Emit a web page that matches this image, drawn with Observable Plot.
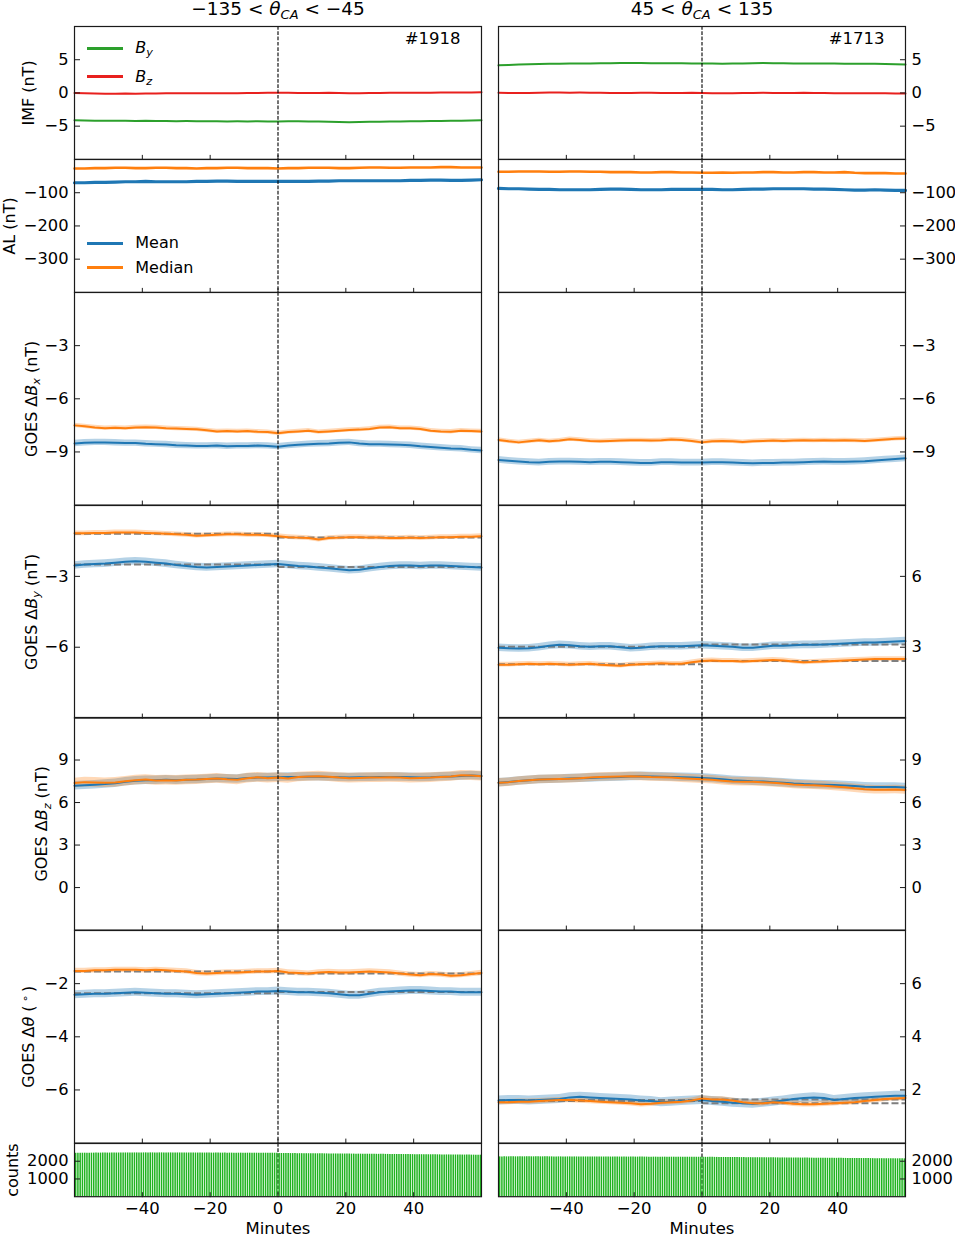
<!DOCTYPE html>
<html><head><meta charset="utf-8">
<script src="https://cdn.jsdelivr.net/npm/d3@7"></script>
<script src="https://cdn.jsdelivr.net/npm/@observablehq/plot@0.6"></script>
<style>
html,body{margin:0;padding:0;background:#fff;}
#chart{position:relative;width:955px;height:1237px;font-family:"DejaVu Sans",sans-serif;color:#000;}
#chart svg{position:absolute;overflow:visible;background:transparent !important;}
.lg-line{position:absolute;height:3px;width:36px;}
.lg-text{position:absolute;font:16px "DejaVu Sans";line-height:20px;transform:translateY(-50%);white-space:nowrap;}
.lg-text sub{font-size:70%;vertical-align:-0.3em;line-height:0;}
</style></head>
<body><div id="chart"></div>
<script>
// ---------------- data ----------------
const minutes = [-60,-57,-54,-51,-48,-45,-42,-39,-36,-33,-30,-27,-24,-21,-18,-15,-12,-9,-6,-3,0,3,6,9,12,15,18,21,24,27,30,33,36,39,42,45,48,51,54,57,60];
const xTicks = [-40,-20,0,20,40];
const titles = ["−135 < θCA < −45", "45 < θCA < 135"];
const eventTotals = ["#1918", "#1713"];
const windows = [[-60,0],[0,60]];

// IMF (nT)
const imfByLeft = [-4.10,-4.15,-4.18,-4.20,-4.18,-4.20,-4.22,-4.20,-4.22,-4.24,
-4.25,-4.24,-4.26,-4.27,-4.26,-4.28,-4.27,-4.28,-4.27,-4.28,
-4.28,-4.27,-4.26,-4.28,-4.30,-4.32,-4.36,-4.40,-4.36,-4.33,
-4.32,-4.30,-4.28,-4.27,-4.25,-4.24,-4.22,-4.20,-4.18,-4.15,-4.12];
const imfBzLeft = [0.00,-0.05,-0.10,-0.12,-0.12,-0.10,-0.12,-0.10,-0.08,-0.06,
-0.05,-0.06,-0.05,-0.04,-0.05,-0.04,-0.03,-0.02,0.00,0.02,
0.03,0.02,0.00,-0.02,0.00,0.02,0.00,-0.03,-0.05,-0.02,
0.00,0.02,0.02,0.03,0.04,0.03,0.05,0.06,0.08,0.08,0.10];
const imfByRight = [4.15,4.22,4.28,4.32,4.35,4.38,4.40,4.42,4.44,4.45,
4.46,4.48,4.50,4.50,4.49,4.48,4.47,4.46,4.46,4.45,
4.44,4.42,4.40,4.42,4.45,4.48,4.50,4.48,4.46,4.45,
4.44,4.43,4.42,4.42,4.41,4.40,4.40,4.39,4.37,4.33,4.28];
const imfBzRight = [0.02,0.00,-0.02,0.00,0.03,0.05,0.05,0.04,0.05,0.03,
0.02,0.00,-0.02,0.00,0.03,0.02,0.00,-0.02,0.00,0.02,
0.00,-0.05,-0.06,-0.04,-0.02,0.00,0.02,0.00,-0.02,0.00,
0.02,0.00,-0.02,-0.04,-0.03,-0.05,-0.06,-0.05,-0.06,-0.08,-0.08];

// AL (nT)
const alMeanLeft = [-70,-70,-69,-69,-68,-67,-67,-66,-67,-67,
-67,-67,-66,-66,-65,-65,-66,-66,-66,-66,
-66,-66,-66,-66,-65,-65,-64,-64,-64,-64,
-64,-64,-64,-63,-63,-62,-62,-63,-63,-62,-61];
const alMedianLeft = [-27,-27,-26,-26,-25,-25,-26,-26,-25,-25,
-26,-26,-27,-26,-26,-25,-25,-26,-26,-26,
-27,-26,-26,-25,-25,-25,-26,-26,-25,-24,
-24,-25,-25,-24,-24,-24,-23,-23,-24,-24,-24];
const alMeanRight = [-87,-88,-88,-89,-90,-90,-91,-91,-91,-91,
-90,-89,-89,-90,-91,-91,-91,-90,-90,-90,
-90,-90,-91,-91,-90,-89,-89,-88,-88,-88,
-88,-89,-89,-90,-91,-92,-92,-91,-92,-93,-93];
const alMedianRight = [-37,-37,-36,-36,-36,-37,-37,-36,-36,-37,
-37,-38,-38,-38,-39,-39,-38,-38,-39,-39,
-40,-40,-39,-40,-39,-39,-38,-38,-39,-39,
-38,-38,-39,-39,-38,-40,-41,-41,-41,-42,-42];

// GOES ΔBx (nT)
const bxMeanLeft = [-8.52,-8.48,-8.46,-8.46,-8.48,-8.50,-8.50,-8.54,-8.56,-8.58,
-8.62,-8.64,-8.66,-8.66,-8.64,-8.68,-8.66,-8.66,-8.64,-8.66,
-8.70,-8.64,-8.60,-8.56,-8.54,-8.52,-8.48,-8.46,-8.52,-8.56,
-8.56,-8.58,-8.60,-8.62,-8.68,-8.72,-8.76,-8.80,-8.82,-8.88,-8.92];
const bxMedianLeft = [-7.50,-7.55,-7.62,-7.66,-7.64,-7.66,-7.62,-7.60,-7.62,-7.66,
-7.68,-7.70,-7.72,-7.78,-7.84,-7.82,-7.84,-7.82,-7.86,-7.88,
-7.95,-7.88,-7.84,-7.80,-7.88,-7.84,-7.80,-7.76,-7.74,-7.70,
-7.62,-7.60,-7.66,-7.66,-7.70,-7.80,-7.84,-7.86,-7.80,-7.82,-7.84];
const bxMeanRight = [-9.45,-9.50,-9.54,-9.58,-9.60,-9.56,-9.54,-9.54,-9.56,-9.58,
-9.56,-9.56,-9.58,-9.60,-9.62,-9.62,-9.58,-9.58,-9.60,-9.60,
-9.60,-9.58,-9.58,-9.60,-9.62,-9.64,-9.62,-9.62,-9.60,-9.60,
-9.58,-9.56,-9.54,-9.56,-9.56,-9.54,-9.52,-9.48,-9.44,-9.40,-9.36];
const bxMedianRight = [-8.32,-8.40,-8.46,-8.40,-8.34,-8.40,-8.36,-8.28,-8.32,-8.38,
-8.40,-8.38,-8.36,-8.34,-8.34,-8.36,-8.34,-8.30,-8.32,-8.38,
-8.46,-8.40,-8.38,-8.40,-8.44,-8.40,-8.38,-8.36,-8.38,-8.36,
-8.34,-8.36,-8.34,-8.36,-8.34,-8.36,-8.38,-8.34,-8.30,-8.26,-8.24];

// GOES ΔBy (nT)
const byMeanLeft = [-2.54,-2.50,-2.48,-2.46,-2.42,-2.38,-2.36,-2.38,-2.42,-2.46,
-2.52,-2.56,-2.60,-2.62,-2.60,-2.58,-2.56,-2.54,-2.52,-2.50,
-2.48,-2.52,-2.56,-2.58,-2.62,-2.66,-2.70,-2.74,-2.72,-2.66,
-2.60,-2.56,-2.54,-2.54,-2.56,-2.54,-2.54,-2.56,-2.58,-2.60,-2.62];
const byMedianLeft = [-1.18,-1.18,-1.16,-1.16,-1.14,-1.14,-1.14,-1.16,-1.18,-1.20,
-1.22,-1.24,-1.28,-1.26,-1.24,-1.22,-1.22,-1.24,-1.24,-1.26,
-1.30,-1.34,-1.36,-1.38,-1.44,-1.38,-1.36,-1.34,-1.34,-1.36,
-1.36,-1.38,-1.38,-1.36,-1.38,-1.36,-1.34,-1.34,-1.32,-1.32,-1.30];
const byMeanRight = [2.98,2.96,2.95,2.96,3.00,3.06,3.10,3.08,3.04,3.02,
3.04,3.04,3.00,2.96,2.98,3.02,3.04,3.04,3.04,3.06,
3.08,3.06,3.04,3.02,2.98,2.98,3.02,3.06,3.06,3.08,
3.10,3.10,3.12,3.14,3.16,3.18,3.20,3.20,3.22,3.24,3.26];
const byMedianRight = [2.26,2.26,2.28,2.30,2.28,2.30,2.28,2.26,2.28,2.30,
2.26,2.24,2.22,2.26,2.28,2.30,2.32,2.30,2.30,2.36,
2.42,2.44,2.42,2.42,2.40,2.42,2.44,2.46,2.44,2.40,
2.36,2.38,2.40,2.42,2.44,2.46,2.48,2.50,2.50,2.50,2.50];

// GOES ΔBz (nT)
const bzMeanLeft = [7.18,7.22,7.26,7.30,7.36,7.46,7.54,7.58,7.58,7.60,
7.58,7.60,7.62,7.66,7.70,7.68,7.66,7.74,7.76,7.76,
7.78,7.80,7.80,7.82,7.82,7.80,7.78,7.76,7.78,7.78,
7.80,7.80,7.80,7.78,7.76,7.78,7.82,7.84,7.88,7.90,7.88];
const bzMedianLeft = [7.38,7.44,7.42,7.40,7.42,7.50,7.58,7.62,7.56,7.58,
7.56,7.60,7.62,7.66,7.70,7.64,7.60,7.72,7.78,7.72,
7.76,7.70,7.80,7.84,7.86,7.82,7.76,7.72,7.74,7.76,
7.76,7.78,7.76,7.72,7.74,7.76,7.80,7.84,7.92,7.90,7.86];
const bzMeanRight = [7.40,7.45,7.52,7.58,7.62,7.64,7.66,7.70,7.72,7.74,
7.76,7.78,7.80,7.84,7.86,7.84,7.82,7.80,7.78,7.76,
7.74,7.70,7.64,7.58,7.54,7.50,7.48,7.44,7.40,7.34,
7.30,7.28,7.26,7.24,7.20,7.16,7.12,7.10,7.10,7.10,7.06];
const bzMedianRight = [7.40,7.44,7.52,7.58,7.62,7.64,7.66,7.68,7.72,7.76,
7.80,7.82,7.84,7.86,7.84,7.80,7.78,7.76,7.72,7.68,
7.64,7.60,7.54,7.48,7.46,7.46,7.44,7.40,7.34,7.28,
7.24,7.22,7.18,7.14,7.08,7.00,6.94,6.90,6.90,6.92,6.88];

// GOES Δθ (°)
const thMeanLeft = [-2.42,-2.40,-2.38,-2.38,-2.36,-2.34,-2.32,-2.34,-2.36,-2.38,
-2.38,-2.40,-2.42,-2.40,-2.38,-2.36,-2.34,-2.32,-2.30,-2.30,
-2.28,-2.30,-2.32,-2.32,-2.34,-2.36,-2.40,-2.44,-2.44,-2.38,
-2.32,-2.30,-2.28,-2.26,-2.26,-2.28,-2.30,-2.30,-2.32,-2.32,-2.32];
const thMedianLeft = [-1.52,-1.52,-1.50,-1.50,-1.48,-1.48,-1.48,-1.50,-1.48,-1.50,
-1.52,-1.54,-1.60,-1.62,-1.60,-1.58,-1.58,-1.56,-1.54,-1.54,
-1.52,-1.58,-1.60,-1.62,-1.58,-1.56,-1.58,-1.58,-1.56,-1.54,
-1.56,-1.58,-1.62,-1.66,-1.68,-1.64,-1.66,-1.70,-1.68,-1.64,-1.60];
const thMeanRight = [1.60,1.62,1.62,1.60,1.62,1.64,1.66,1.72,1.74,1.72,
1.70,1.68,1.66,1.64,1.60,1.58,1.54,1.56,1.58,1.60,
1.62,1.58,1.56,1.52,1.50,1.48,1.52,1.56,1.60,1.66,
1.70,1.72,1.70,1.62,1.66,1.70,1.72,1.74,1.76,1.78,1.78];
const thMedianRight = [1.54,1.54,1.56,1.56,1.58,1.60,1.62,1.62,1.60,1.58,
1.56,1.54,1.52,1.50,1.46,1.48,1.52,1.54,1.56,1.60,
1.68,1.64,1.64,1.60,1.54,1.50,1.50,1.54,1.52,1.48,
1.46,1.46,1.48,1.50,1.52,1.54,1.58,1.62,1.66,1.68,1.70];

// uncertainty half-widths: [mean left, median left, mean right, median right]
const bxBand = [0.18, 0.12, 0.19, 0.12];
const byBand = [0.16, 0.10, 0.16, 0.10];
const bzBand = [0.30, 0.34, 0.30, 0.30];
const thBand = [0.15, 0.10, 0.17, 0.10];

// pre/post window levels: [mean pre, mean post, median pre, median post]
const byLevelLeft = [-2.50, -2.60, -1.20, -1.36];
const byLevelRight = [3.02, 3.12, 2.28, 2.42];
const thLevelLeft = [-2.36, -2.31, -1.54, -1.62];
const thLevelRight = [1.62, 1.64, 1.58, 1.50];

// counts per 40-second bin
const countsLeft = [2448,2450,2451,2452,2454,2454,2455,2456,2456,2457,
2458,2459,2459,2460,2461,2461,2462,2463,2463,2464,
2465,2465,2466,2466,2467,2467,2468,2468,2469,2469,
2469,2470,2470,2470,2470,2471,2470,2470,2470,2469,
2469,2468,2468,2468,2467,2467,2466,2466,2465,2465,
2464,2464,2463,2463,2462,2462,2461,2461,2460,2460,
2459,2459,2458,2458,2457,2457,2457,2456,2456,2456,
2455,2455,2455,2455,2454,2454,2454,2454,2453,2453,
2453,2453,2453,2452,2452,2452,2452,2452,2452,2452,
2437,2436,2434,2433,2432,2431,2430,2429,2428,2427,
2426,2425,2424,2423,2422,2421,2420,2419,2418,2417,
2416,2415,2414,2412,2411,2410,2409,2408,2407,2406,
2405,2404,2402,2401,2400,2399,2398,2397,2396,2395,
2394,2393,2391,2390,2389,2388,2387,2386,2385,2384,
2383,2382,2380,2379,2378,2377,2376,2375,2374,2373,
2372,2371,2369,2368,2367,2366,2365,2364,2363,2362,
2361,2360,2358,2357,2356,2355,2354,2353,2352,2351,
2350,2349,2347,2346,2345,2344,2343,2342,2341,2340];
const countsRight = [2245,2245,2246,2246,2246,2247,2247,2247,2247,2248,
2248,2248,2248,2248,2248,2248,2248,2247,2247,2247,
2247,2246,2246,2246,2245,2245,2245,2244,2244,2244,
2243,2243,2243,2242,2242,2242,2241,2241,2241,2240,
2240,2240,2239,2239,2239,2238,2238,2238,2237,2237,
2237,2236,2236,2236,2235,2235,2235,2234,2234,2234,
2233,2233,2233,2232,2232,2232,2231,2231,2231,2230,
2230,2230,2229,2229,2229,2228,2228,2228,2227,2227,
2227,2226,2226,2226,2225,2225,2225,2224,2224,2224,
2222,2221,2220,2219,2218,2217,2216,2215,2214,2213,
2212,2211,2210,2209,2208,2207,2206,2205,2204,2203,
2202,2201,2200,2199,2198,2197,2196,2195,2194,2193,
2192,2191,2190,2189,2188,2187,2186,2185,2184,2183,
2182,2181,2180,2179,2178,2177,2176,2175,2174,2173,
2172,2171,2170,2169,2168,2167,2166,2165,2164,2163,
2162,2161,2160,2159,2158,2157,2156,2155,2154,2153,
2152,2151,2150,2149,2148,2147,2146,2145,2144,2143,
2142,2141,2140,2139,2138,2137,2136,2135,2134,2133];

// ---------------- layout & style ----------------
const colX = [73.5, 497.5];
const panelW = 407;
const rowTop = [26.3, 159.2, 292.1, 504.7, 717.3, 929.9, 1142.5];
const rowH = [132.9, 132.9, 212.6, 212.6, 212.6, 212.6, 53.2];
const M = {l: 90, r: 70, t: 40, b: 50};
const MEAN = "#1f77b4", MEDIAN = "#ff7f0e", BYC = "#2ca02c", BZC = "#e8201e", BARC = "#1fb31f";
const fmt = d => (d < 0 ? "\u2212" + Math.abs(d) : String(d));

const RICH = {
  "−135 < θCA < −45": '−135 &lt; <tspan font-style="italic">θ</tspan><tspan font-style="italic" font-size="13" dy="4">CA</tspan><tspan dy="-4"> &lt; −45</tspan>',
  "45 < θCA < 135": '45 &lt; <tspan font-style="italic">θ</tspan><tspan font-style="italic" font-size="13" dy="4">CA</tspan><tspan dy="-4"> &lt; 135</tspan>',
  "GOES ΔBx (nT)": 'GOES Δ<tspan font-style="italic">B</tspan><tspan font-style="italic" font-size="11.2" dy="3.5">x</tspan><tspan dy="-3.5"> (nT)</tspan>',
  "GOES ΔBy (nT)": 'GOES Δ<tspan font-style="italic">B</tspan><tspan font-style="italic" font-size="11.2" dy="3.5">y</tspan><tspan dy="-3.5"> (nT)</tspan>',
  "GOES ΔBz (nT)": 'GOES Δ<tspan font-style="italic">B</tspan><tspan font-style="italic" font-size="11.2" dy="3.5">z</tspan><tspan dy="-3.5"> (nT)</tspan>',
  "GOES Δθ (°)": 'GOES Δ<tspan font-style="italic">θ</tspan> (\u2009<tspan font-size="11.2" dy="-5.5">∘</tspan><tspan dy="5.5">\u2009)</tspan>'
};

function table(...cols) {
  return minutes.map((t, i) => ({t, a: cols[0][i], b: cols[1][i]}));
}
function lineMarks(a, b, colA, colB, wA, wB) {
  const rows = table(a, b);
  return [
    Plot.lineY(rows, {x: "t", y: "a", stroke: colA, strokeWidth: wA}),
    Plot.lineY(rows, {x: "t", y: "b", stroke: colB, strokeWidth: wB})
  ];
}
function goesMarks(mean, med, band, c, lev) {
  const rows = table(mean, med);
  const eM = band[2 * c], eD = band[2 * c + 1];
  const out = [
    Plot.areaY(rows, {x: "t", y1: r => r.a - eM, y2: r => r.a + eM, fill: MEAN, fillOpacity: 0.33}),
    Plot.areaY(rows, {x: "t", y1: r => r.b - eD, y2: r => r.b + eD, fill: MEDIAN, fillOpacity: 0.3})
  ];
  if (lev) {
    const levels = [
      {a: windows[0][0], b: windows[0][1], y: lev[0]},
      {a: windows[1][0], b: windows[1][1], y: lev[1]},
      {a: windows[0][0], b: windows[0][1], y: lev[2]},
      {a: windows[1][0], b: windows[1][1], y: lev[3]}
    ];
    out.push(Plot.ruleY(levels, {y: "y", x1: "a", x2: "b", stroke: "#7f7f7f", strokeWidth: 2, strokeDasharray: "7,3"}));
  }
  out.push(
    Plot.lineY(rows, {x: "t", y: "a", stroke: MEAN, strokeWidth: 2}),
    Plot.lineY(rows, {x: "t", y: "b", stroke: MEDIAN, strokeWidth: 2})
  );
  return out;
}
function barMarks(counts) {
  const rows = counts.map((n, i) => ({t: windows[0][0] + (i + 0.5) * (windows[1][1] - windows[0][0]) / counts.length, n}));
  return [Plot.ruleX(rows, {x: "t", y1: 0, y2: "n", stroke: BARC, strokeWidth: 1.5})];
}

const rows = [
  {label: "IMF (nT)", labelX: 28, dom: [[-10, 10], [-10, 10]], ticks: [[-5, 0, 5], [-5, 0, 5]],
   marks: c => c ? lineMarks(imfByRight, imfBzRight, BYC, BZC, 2, 2) : lineMarks(imfByLeft, imfBzLeft, BYC, BZC, 2, 2)},
  {label: "AL (nT)", labelX: 8.5, dom: [[-400, 0], [-400, 0]], ticks: [[-300, -200, -100], [-300, -200, -100]],
   marks: c => c ? lineMarks(alMeanRight, alMedianRight, MEAN, MEDIAN, 3.2, 2.6) : lineMarks(alMeanLeft, alMedianLeft, MEAN, MEDIAN, 3.2, 2.6)},
  {label: "GOES ΔBx (nT)", labelX: 30.5, dom: [[-12, 0], [-12, 0]], ticks: [[-9, -6, -3], [-9, -6, -3]],
   marks: c => c ? goesMarks(bxMeanRight, bxMedianRight, bxBand, 1, null) : goesMarks(bxMeanLeft, bxMedianLeft, bxBand, 0, null)},
  {label: "GOES ΔBy (nT)", labelX: 30.5, dom: [[-9, 0], [0, 9]], ticks: [[-6, -3], [3, 6]],
   marks: c => c ? goesMarks(byMeanRight, byMedianRight, byBand, 1, byLevelRight) : goesMarks(byMeanLeft, byMedianLeft, byBand, 0, byLevelLeft)},
  {label: "GOES ΔBz (nT)", labelX: 41, dom: [[-3, 12], [-3, 12]], ticks: [[0, 3, 6, 9], [0, 3, 6, 9]],
   marks: c => c ? goesMarks(bzMeanRight, bzMedianRight, bzBand, 1, null) : goesMarks(bzMeanLeft, bzMedianLeft, bzBand, 0, null)},
  {label: "GOES Δθ (°)", labelX: 28, dom: [[-8, 0], [0, 8]], ticks: [[-6, -4, -2], [2, 4, 6]],
   marks: c => c ? goesMarks(thMeanRight, thMedianRight, thBand, 1, thLevelRight) : goesMarks(thMeanLeft, thMedianLeft, thBand, 0, thLevelLeft)},
  {label: "counts", labelX: 12, dom: [[0, 3000], [0, 3000]], ticks: [[1000, 2000], [1000, 2000]],
   marks: c => c ? barMarks(countsRight) : barMarks(countsLeft)}
];

const chart = document.getElementById("chart");

for (let c = 0; c < 2; c++) {
  for (let r = 0; r < rows.length; r++) {
    const spec = rows[r];
    const H = rowH[r], W = panelW;
    const zero = Plot.ruleX([0], {x: d => d, stroke: "#000", strokeWidth: 1.1, strokeDasharray: "3.7,1.6"});
    const marks = [];
    if (r === 6) marks.push(zero);
    marks.push(...spec.marks(c));
    if (r !== 6) marks.push(zero);
    marks.push(Plot.frame({stroke: "#1a1a1a", strokeWidth: 1.2}));
    marks.push(Plot.axisY(spec.ticks[c], {anchor: c ? "right" : "left", tickSize: 0, tickPadding: 6, tickFormat: fmt, label: null, fontSize: 16.3}));
    marks.push(Plot.axisY(spec.ticks[c], {anchor: c ? "left" : "right", dx: c ? W : -W, tickSize: 5, tickFormat: () => "", label: null, stroke: "#1a1a1a"}));
    marks.push(Plot.axisX(xTicks, {anchor: "top", dy: H, tickSize: 5, tickFormat: () => "", label: null, stroke: "#1a1a1a"}));
    if (r === rows.length - 1) {
      marks.push(Plot.axisX(xTicks, {anchor: "bottom", tickSize: 0, tickPadding: 6, tickFormat: fmt, label: null, fontSize: 16.5}));
      marks.push(Plot.text(["Minutes"], {text: d => d, frameAnchor: "bottom", dy: 32, lineAnchor: "middle", fontSize: 16.5}));
    }
    if (r === 0) {
      marks.push(Plot.text([titles[c]], {text: d => d, frameAnchor: "top", dy: -17, lineAnchor: "middle", fontSize: 18.5}));
      marks.push(Plot.text([eventTotals[c]], {text: d => d, frameAnchor: "top-right", dx: -21, dy: 12, textAnchor: "end", lineAnchor: "middle", fontSize: 16.5}));
    }
    if (c === 0) {
      marks.push(Plot.text([spec.label], {text: d => d, frameAnchor: "left", dx: spec.labelX - colX[0], rotate: -90, textAnchor: "middle", lineAnchor: "middle", fontSize: 16}));
    }
    const svg = Plot.plot({
      width: W + M.l + M.r, height: H + M.t + M.b,
      marginLeft: M.l, marginRight: M.r, marginTop: M.t, marginBottom: M.b,
      style: {fontFamily: "DejaVu Sans", fontSize: "16px", color: "#000", background: "transparent", overflow: "visible"},
      x: {domain: [-60, 60], axis: null},
      y: {domain: spec.dom[c], axis: null},
      marks
    });
    svg.style.position = "absolute";
    svg.style.left = (colX[c] - M.l) + "px";
    svg.style.top = (rowTop[r] - M.t) + "px";
    svg.querySelectorAll("text").forEach(el => {
      const k = el.textContent;
      if (RICH[k]) el.innerHTML = RICH[k];
    });
    chart.appendChild(svg);
  }
}

// ---------------- legends ----------------
function legendItem(color, y, html, x0) {
  const ln = document.createElement("div");
  ln.className = "lg-line";
  ln.style.left = x0 + "px";
  ln.style.top = (y - 1.5) + "px";
  ln.style.background = color;
  chart.appendChild(ln);
  const tx = document.createElement("div");
  tx.className = "lg-text";
  tx.style.left = (x0 + 48) + "px";
  tx.style.top = y + "px";
  tx.innerHTML = html;
  chart.appendChild(tx);
}
legendItem(BYC, 48.3, "<i>B</i><sub><i>y</i></sub>", 87.3);
legendItem(BZC, 76.7, "<i>B</i><sub><i>z</i></sub>", 87.3);
legendItem(MEAN, 243.3, "Mean", 87.3);
legendItem(MEDIAN, 267.7, "Median", 87.3);
</script>
</body></html>
